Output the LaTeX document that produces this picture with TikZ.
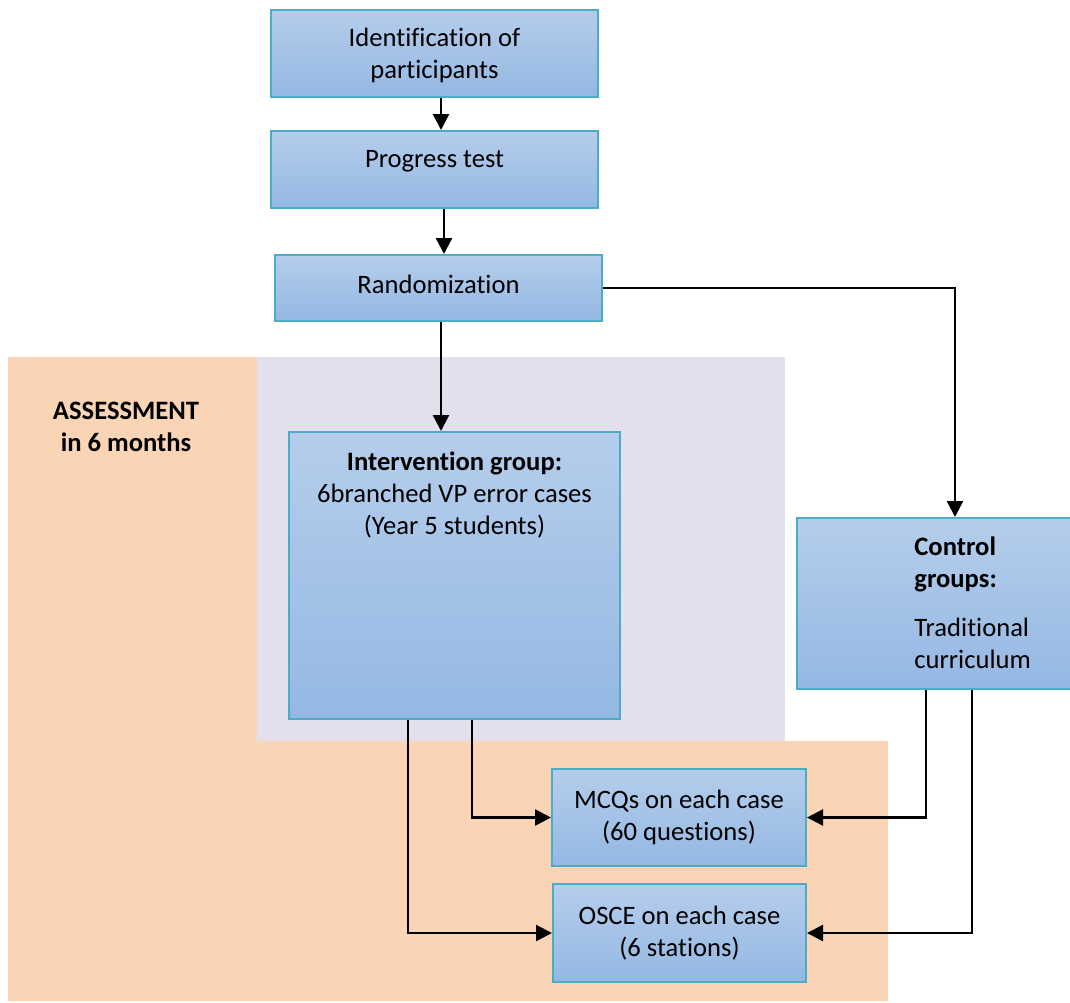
\documentclass[tikz,border=0pt]{standalone}
\usepackage{fontspec}
\setmainfont[Ligatures=NoCommon]{Carlito}
\usetikzlibrary{arrows.meta}
\definecolor{boxtop}{RGB}{181,205,235}
\definecolor{boxbot}{RGB}{148,184,227}
\definecolor{boxline}{RGB}{75,172,198}
\definecolor{peach}{RGB}{250,213,181}
\definecolor{lavender}{RGB}{228,223,236}
\begin{document}
\begin{tikzpicture}[x=0.5pt,y=-0.5pt,
    every node/.style={font=\fontsize{13.3}{16}\selectfont},
    flowbox/.style={rectangle,draw=boxline,line width=1pt,top color=boxtop,bottom color=boxbot,align=center,inner sep=0pt},
    boxtext/.style={inner sep=0pt},
    arr/.style={-{Triangle[length=8pt,width=8pt]},line width=1.2pt}]
  \useasboundingbox (0,0) rectangle (1070,1002);
  % background areas
  \fill[peach] (8,357) rectangle (257,1001);
  \fill[peach] (257,741) rectangle (888,1001);
  \fill[lavender] (257,357) rectangle (785,741);
  \node[boxtext,align=center,font=\fontsize{13.3}{16}\selectfont\bfseries] (assess) at (126,427) {ASSESSMENT\\in 6 months};
  % boxes
  \node[flowbox,minimum width=163.5pt,minimum height=43.5pt] (ident) at (434.5,53.5) {\raisebox{-1pt}[\height][\depth]{Identification of}\\\raisebox{-1pt}[\height][\depth]{participants}};
  \node[flowbox,minimum width=163.5pt,minimum height=38.5pt] (prog) at (434.5,169.5) {\raisebox{4pt}[\height][\depth]{Progress test}};
  \node[flowbox,minimum width=163.5pt,minimum height=33pt] (rand) at (438.5,288) {\raisebox{2pt}[\height][\depth]{Randomization}};
  \node[flowbox,minimum width=165.5pt,minimum height=143.5pt] (ivg) at (454.5,575.5) {};
  \node[boxtext,align=center,anchor=north] (ivgtext) at (454.5,451) {\textbf{Intervention group:}\\6branched VP error cases\\(Year 5 students)};
  \node[flowbox,minimum width=141.5pt,minimum height=85.5pt] (ctl) at (938.5,603.5) {};
  \node[boxtext,align=left,anchor=north west] (ctltext) at (914,536) {\textbf{Control}\\\textbf{groups:}\\[8.5pt]Traditional\\curriculum};
  \node[flowbox,minimum width=127pt,minimum height=48.5pt] (mcq) at (679,817.5) {MCQs on each case\\(60 questions)};
  \node[flowbox,minimum width=126.5pt,minimum height=49pt] (osce) at (679.5,933) {OSCE on each case\\(6 stations)};
  % connectors
  \draw[arr] (ident.south -| 441,0) -- (prog.north -| 441,0);
  \draw[arr] (prog.south -| 444,0) -- (rand.north -| 444,0);
  \draw[arr] (rand.south -| 441,0) -- (ivg.north -| 441,0);
  \draw[arr] (rand.east) -| (ctl.north -| 955,0);
  \draw[arr] (ivg.south -| 472,0) |- (mcq.west);
  \draw[arr] (ivg.south -| 408,0) |- (osce.west);
  \draw[arr] (ctl.south -| 926,0) |- (mcq.east);
  \draw[arr] (ctl.south -| 972,0) |- (osce.east);
\end{tikzpicture}
\end{document}
